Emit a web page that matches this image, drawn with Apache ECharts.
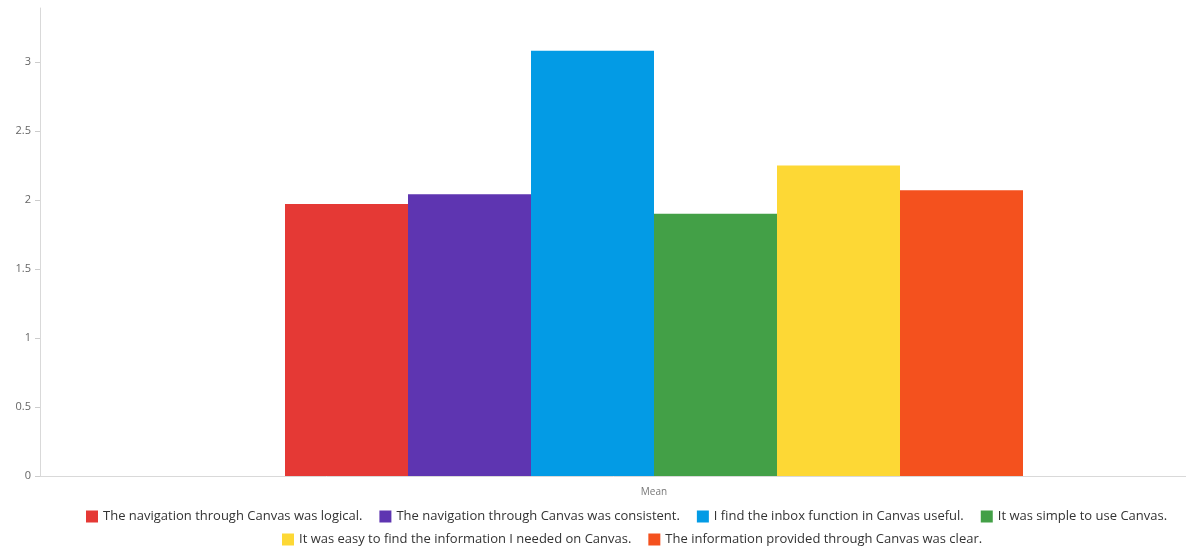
<!DOCTYPE html>
<html>
<head>
<meta charset="utf-8">
<script src="https://cdn.jsdelivr.net/npm/echarts@6/dist/echarts.min.js"></script>
<style>
    html, body { margin: 0; padding: 0; background: #fff; }
    #MeanChart { width: 1186px; height: 549px; }
</style>
</head>
<body>
<div id="MeanChart"></div>
<script>
var categories = ['Mean'];
var seriesNames = [
    'The navigation through Canvas was logical.',
    'The navigation through Canvas was consistent.',
    'I find the inbox function in Canvas useful.',
    'It was simple to use Canvas.',
    'It was easy to find the information I needed on Canvas.',
    'The information provided through Canvas was clear.'
];
var meanValues = [1.97, 2.04, 3.08, 1.90, 2.25, 2.07];
var yTicks = [0, 0.5, 1, 1.5, 2, 2.5, 3];
var colors = ['#E53935', '#5E35B1', '#039BE5', '#43A047', '#FDD835', '#F4511E'];

LoadMeanChart();

//平均值柱状图
function LoadMeanChart() {
    var myChart = echarts.init(document.getElementById("MeanChart"));
    var series = seriesNames.map(function (name, i) {
        return {
            name: name,
            type: 'bar',
            barWidth: 123,
            barGap: '0%',
            itemStyle: { color: colors[i] },
            data: [meanValues[i]]
        };
    });
    var legendStyle = {
        itemWidth: 12,
        itemHeight: 12,
        itemGap: 17,
        icon: 'rect',
        padding: 0,
        textStyle: { color: '#333', fontSize: 13, fontFamily: 'Open Sans' }
    };
    var option = {
        animation: false,
        textStyle: { fontFamily: 'Open Sans' },
        grid: {
            left: 40,
            top: 8,
            bottom: 73,
            right: -82,
            outerBoundsMode: 'none',
            containLabel: false
        },
        legend: [
            Object.assign({ left: 86, top: 510, data: seriesNames.slice(0, 4) }, legendStyle),
            Object.assign({ left: 282, top: 533, data: seriesNames.slice(4) }, legendStyle)
        ],
        xAxis: {
            type: 'category',
            data: categories,
            axisLine: { lineStyle: { color: '#d9d9d9', width: 1 } },
            axisTick: { show: false },
            axisLabel: { color: '#777', fontSize: 10, margin: 11 }
        },
        yAxis: {
            type: 'value',
            min: 0,
            max: 3.39,
            axisLine: { show: true, lineStyle: { color: '#d9d9d9', width: 1 } },
            axisTick: { show: true, length: 5, customValues: yTicks, lineStyle: { color: '#ccc' } },
            axisLabel: { color: '#666', fontSize: 11, margin: 9, customValues: yTicks },
            splitLine: { show: false }
        },
        series: series
    };
    myChart.setOption(option);
}
</script>
</body>
</html>
